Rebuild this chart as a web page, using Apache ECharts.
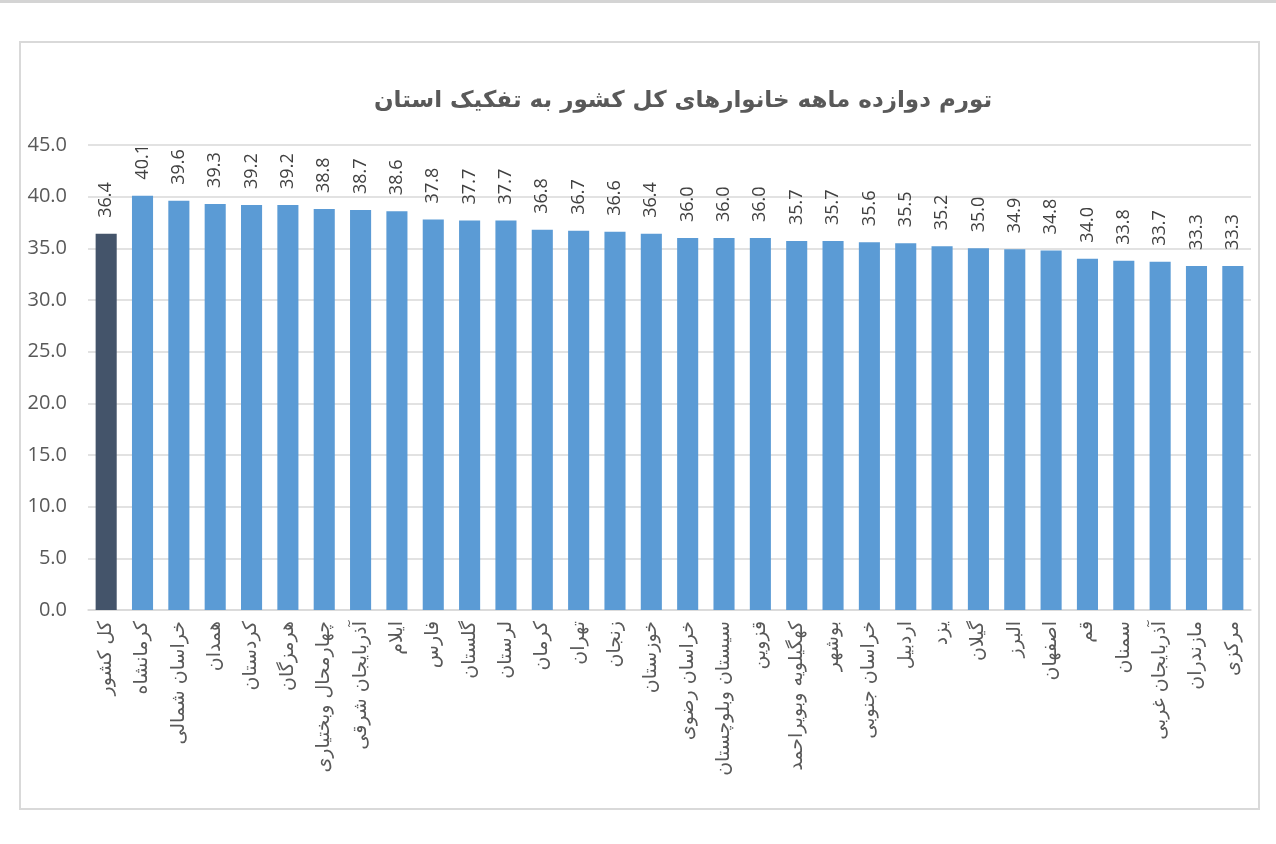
<!DOCTYPE html>
<html>
<head>
<meta charset="utf-8">
<script src="https://cdn.jsdelivr.net/npm/echarts@6/dist/echarts.min.js"></script>
<style>
html,body{margin:0;padding:0;background:#fff;}
#chart{width:1276px;height:844px;}
</style>
</head>
<body>
<div id="chart"></div>
<script>
const titleText = 'تورم دوازده ماهه خانوارهای کل کشور به تفکیک استان';
const categories = ['کل کشور','کرمانشاه','خراسان شمالی','همدان','کردستان','هرمزگان','چهارمحال وبختیاری','آذربایجان شرقی','ایلام','فارس','گلستان','لرستان','کرمان','تهران','زنجان','خوزستان','خراسان رضوی','سیستان وبلوچستان','قزوین','کهگیلویه وبویراحمد','بوشهر','خراسان جنوبی','اردبیل','یزد','گیلان','البرز','اصفهان','قم','سمنان','آذربایجان غربی','مازندران','مرکزی'];
const values = [36.4,40.1,39.6,39.3,39.2,39.2,38.8,38.7,38.6,37.8,37.7,37.7,36.8,36.7,36.6,36.4,36.0,36.0,36.0,35.7,35.7,35.6,35.5,35.2,35.0,34.9,34.8,34.0,33.8,33.7,33.3,33.3];
const highlightIndex = 0;

const chart = echarts.init(document.getElementById('chart'), null, {renderer:'canvas'});
const data = values.map((v,i)=>({
  value: v,
  itemStyle: {color: i===highlightIndex ? '#44546A' : '#5B9BD5'}
}));
chart.setOption({
  backgroundColor:'#fff',
  animation:false,
  title:{
    text:titleText,
    left:678,
    textAlign:'center',
    top:85,
    textStyle:{fontFamily:'DejaVu Sans',fontWeight:'bold',fontSize:23,color:'#595959'}
  },
  graphic:[
    {type:'line',shape:{x1:0,y1:1.5,x2:1276,y2:1.5},style:{stroke:'#d4d4d4',lineWidth:3}},
    {type:'rect',shape:{x:20,y:42,width:1239,height:767},style:{fill:'none',stroke:'#d9d9d9',lineWidth:2}}
  ],
  grid:{left:88,right:25,top:145,bottom:234,containLabel:false},
  xAxis:{
    type:'category',
    data:categories,
    axisTick:{show:false},
    axisLine:{lineStyle:{color:'#d9d9d9',width:1.5}},
    axisLabel:{
      rotate:90,
      interval:0,
      margin:11,
      fontFamily:'DejaVu Sans',
      fontSize:19,
      color:'#595959'
    }
  },
  yAxis:{
    type:'value',
    min:0,max:45,interval:5,
    axisLine:{show:false},
    axisTick:{show:false},
    splitLine:{lineStyle:{color:'#d9d9d9',width:1.5}},
    axisLabel:{
      formatter:v=>v.toFixed(1),
      fontFamily:'Open Sans',
      fontSize:20,
      color:'#595959',
      margin:21
    }
  },
  series:[{
    type:'bar',
    data:data,
    barWidth:'58%',
    label:{
      show:true,
      position:'top',
      rotate:90,
      align:'left',
      verticalAlign:'middle',
      distance:16,
      formatter:p=>p.value.toFixed(1),
      fontFamily:'Open Sans',
      fontSize:18,
      color:'#404040'
    }
  }]
});
</script>
</body>
</html>
